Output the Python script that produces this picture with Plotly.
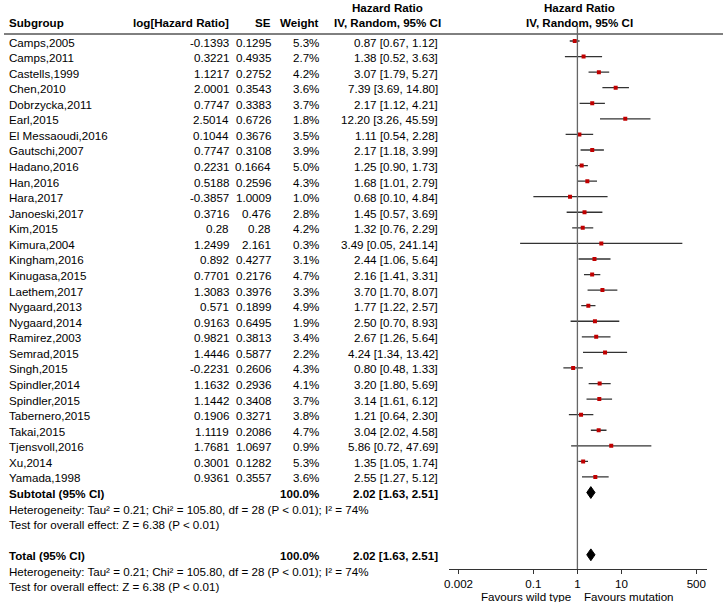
import plotly.graph_objects as go

studies = ["Camps,2005", "Camps,2011", "Castells,1999", "Chen,2010", "Dobrzycka,2011", "Earl,2015",
           "El Messaoudi,2016", "Gautschi,2007", "Hadano,2016", "Han,2016", "Hara,2017", "Janoeski,2017",
           "Kim,2015", "Kimura,2004", "Kingham,2016", "Kinugasa,2015", "Laethem,2017", "Nygaard,2013",
           "Nygaard,2014", "Ramirez,2003", "Semrad,2015", "Singh,2015", "Spindler,2014", "Spindler,2015",
           "Tabernero,2015", "Takai,2015", "Tjensvoll,2016", "Xu,2014", "Yamada,1998"]
log_hr = [-0.1393, 0.3221, 1.1217, 2.0001, 0.7747, 2.5014, 0.1044, 0.7747, 0.2231, 0.5188, -0.3857, 0.3716,
          0.28, 1.2499, 0.892, 0.7701, 1.3083, 0.571, 0.9163, 0.9821, 1.4446, -0.2231, 1.1632, 1.1442,
          0.1906, 1.1119, 1.7681, 0.3001, 0.9361]
se = [0.1295, 0.4935, 0.2752, 0.3543, 0.3383, 0.6726, 0.3676, 0.3108, 0.1664, 0.2596, 1.0009, 0.476,
      0.28, 2.161, 0.4277, 0.2176, 0.3976, 0.1899, 0.6495, 0.3813, 0.5877, 0.2606, 0.2936, 0.3408,
      0.3271, 0.2086, 1.0697, 0.1282, 0.3557]
weight = [5.3, 2.7, 4.2, 3.6, 3.7, 1.8, 3.5, 3.9, 5.0, 4.3, 1.0, 2.8, 4.2, 0.3, 3.1, 4.7, 3.3, 4.9, 1.9,
          3.4, 2.2, 4.3, 4.1, 3.7, 3.8, 4.7, 0.9, 5.3, 3.6]
hr = [0.87, 1.38, 3.07, 7.39, 2.17, 12.20, 1.11, 2.17, 1.25, 1.68, 0.68, 1.45, 1.32, 3.49, 2.44, 2.16,
      3.70, 1.77, 2.50, 2.67, 4.24, 0.80, 3.20, 3.14, 1.21, 3.04, 5.86, 1.35, 2.55]
lo = [0.67, 0.52, 1.79, 3.69, 1.12, 3.26, 0.54, 1.18, 0.90, 1.01, 0.10, 0.57, 0.76, 0.05, 1.06, 1.41,
      1.70, 1.22, 0.70, 1.26, 1.34, 0.48, 1.80, 1.61, 0.64, 2.02, 0.72, 1.05, 1.27]
hi = [1.12, 3.63, 5.27, 14.80, 4.21, 45.59, 2.28, 3.99, 1.73, 2.79, 4.84, 3.69, 2.29, 241.14, 5.64, 3.31,
      8.07, 2.57, 8.93, 5.64, 13.42, 1.33, 5.69, 6.12, 2.30, 4.58, 47.69, 1.74, 5.12]

pooled_weight = 100.0
pooled_hr, pooled_lo, pooled_hi = 2.02, 1.63, 2.51
het_text = "Heterogeneity: Tau² = 0.21; Chi² = 105.80, df = 28 (P < 0.01); I² = 74%"
test_text = "Test for overall effect: Z = 6.38 (P < 0.01)"
tick_vals = [0.002, 0.1, 1, 10, 500]
tick_text = ["0.002", "0.1", "1", "10", "500"]

W, H = 723, 602
FONT = "Arial, Liberation Sans, sans-serif"
FS = 11.6
n = len(studies)
rows = list(range(n))
sub_row = n
total_row = n + 4

row_px0, row_step = 41.0, 15.57
def px_to_row(p):
    return (p - row_px0) / row_step

fig = go.Figure()

# CI lines
cx, cy = [], []
for r, a, b in zip(rows, lo, hi):
    cx += [a, b, None]
    cy += [r, r, None]
fig.add_trace(go.Scatter(x=cx, y=cy, mode="lines", line=dict(color="#333333", width=1.3),
                         hoverinfo="skip", showlegend=False))
# point estimates
fig.add_trace(go.Scatter(x=hr, y=rows, mode="markers",
                         marker=dict(symbol="square", size=4, color="#c00000", line=dict(width=0)),
                         showlegend=False))
# diamonds
for r in [sub_row, total_row]:
    fig.add_trace(go.Scatter(x=[pooled_lo, pooled_hr, pooled_hi, pooled_hr, pooled_lo],
                             y=[r, r - 0.38, r, r + 0.38, r], mode="lines", fill="toself",
                             fillcolor="black", line=dict(color="black", width=1), showlegend=False))

ann = []
def txt(x, y, s, anchor="left", bold=False, size=FS):
    ann.append(dict(x=x / W, y=y, xref="paper", yref="y", text=("<b>%s</b>" % s) if bold else s,
                    showarrow=False, xanchor=anchor, yanchor="middle", yshift=-1,
                    font=dict(family=FONT, size=size, color="black")))

# headers
hdr1 = px_to_row(6.5)
hdr2 = px_to_row(21)
txt(3, hdr2, "Subgroup", bold=True)
txt(228, hdr2, "log[Hazard Ratio]", "right", bold=True)
txt(270, hdr2, "SE", "right", bold=True)
txt(319, hdr2, "Weight", "right", bold=True)
txt(386, hdr1, "Hazard Ratio", "center", bold=True)
txt(386, hdr2, "IV, Random, 95% CI", "center", bold=True)
txt(579, hdr1, "Hazard Ratio", "center", bold=True)
txt(579, hdr2, "IV, Random, 95% CI", "center", bold=True)

for r, s, l, e, w, h, a, b in zip(rows, studies, log_hr, se, weight, hr, lo, hi):
    txt(3, r, s)
    txt(228, r, str(l), "right")
    txt(270, r, str(e), "right")
    txt(319, r, "%.1f%%" % w, "right")
    txt(438, r, "%.2f [%.2f, %.2f]" % (h, a, b), "right")

for r, lab in [(sub_row, "Subtotal (95% CI)"), (total_row, "Total (95% CI)")]:
    txt(3, r, lab, bold=True)
    txt(319, r, "%.1f%%" % pooled_weight, "right", bold=True)
    txt(438, r, "%.2f [%.2f, %.2f]" % (pooled_hr, pooled_lo, pooled_hi), "right", bold=True)
    txt(3, r + 1, het_text)
    txt(3, r + 2, test_text)

txt(572, px_to_row(595.5), "Favours wild type", "right")
txt(581, px_to_row(595.5), "Favours mutation", "left")

axis_px = 569
shapes = [
    dict(type="line", xref="paper", yref="y", x0=0, x1=1, y0=px_to_row(34), y1=px_to_row(34),
         line=dict(color="black", width=1)),
    dict(type="line", xref="x", yref="y", x0=1, x1=1, y0=px_to_row(26), y1=px_to_row(axis_px),
         line=dict(color="#666666", width=1.3)),
]

fig.update_layout(
    width=W, height=H, autosize=False,
    margin=dict(l=0, r=0, t=0, b=0),
    paper_bgcolor="white", plot_bgcolor="white",
    showlegend=False,
    annotations=ann, shapes=shapes,
    font=dict(family=FONT, size=FS, color="black"),
    xaxis=dict(type="log", range=[-2.926, 2.944], domain=[447 / W, 707 / W],
               anchor="free", position=(H - axis_px) / H,
               showline=True, linecolor="#333333", linewidth=1,
               ticks="outside", ticklen=4, tickcolor="#333333",
               tickvals=tick_vals, ticktext=tick_text,
               tickfont=dict(family=FONT, size=FS, color="black"),
               showgrid=False, zeroline=False),
    yaxis=dict(range=[px_to_row(H), px_to_row(0)], domain=[0, 1], visible=False,
               showgrid=False, zeroline=False),
)

fig.write_html("out.html", config={"displayModeBar": False},
               post_script="document.body.style.margin='0';document.body.style.padding='0';")
